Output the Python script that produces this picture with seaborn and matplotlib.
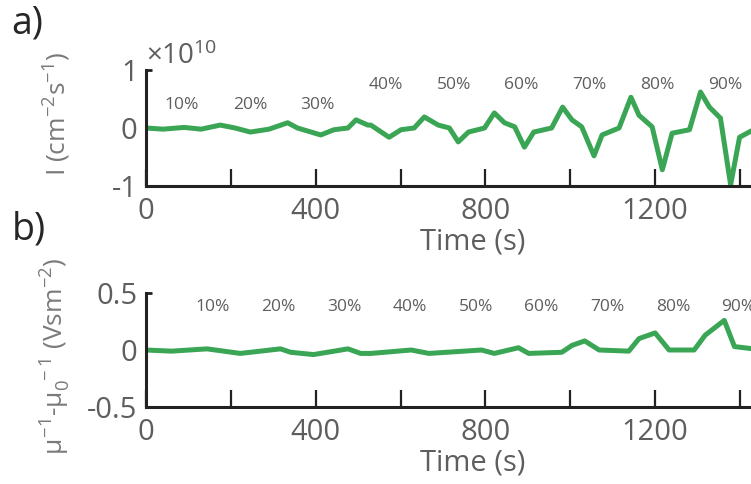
import numpy as np
import pandas as pd
import seaborn as sns
import matplotlib.pyplot as plt

# Panel a: photon intensity (units of 1e10 cm^-2 s^-1)
time_a = [0, 40, 90, 130, 175, 210, 246, 290, 334, 357, 412, 443, 476, 495, 523,
          530, 573, 601, 632, 656, 689, 715, 736, 760, 798, 821, 845, 869, 892,
          914, 956, 982, 1004, 1027, 1056, 1075, 1115, 1143, 1162, 1193, 1217,
          1240, 1281, 1307, 1328, 1354, 1378, 1399, 1432, 1500]
intensity = [0.0, -0.02, 0.01, -0.02, 0.05, 0.0, -0.07, -0.02, 0.09, 0.0, -0.12,
             -0.03, 0.0, 0.14, 0.05, 0.05, -0.16, -0.03, 0.0, 0.19, 0.05, 0.0,
             -0.24, -0.07, 0.0, 0.26, 0.09, 0.02, -0.33, -0.07, 0.0, 0.36, 0.14,
             0.02, -0.48, -0.12, 0.0, 0.53, 0.22, 0.02, -0.72, -0.09, -0.03, 0.62,
             0.36, 0.17, -0.98, -0.16, -0.03, 0.0]

# Panel b: inverse mobility change (V s m^-2)
time_b = [0, 60, 144, 222, 317, 341, 395, 476, 506, 530, 625, 667, 791, 821, 878,
          902, 980, 1004, 1034, 1068, 1138, 1162, 1200, 1233, 1292, 1318, 1363,
          1387, 1432, 1500]
mobility = [0.0, -0.01, 0.01, -0.03, 0.01, -0.02, -0.04, 0.01, -0.03, -0.03, 0.0,
            -0.03, 0.0, -0.03, 0.02, -0.03, -0.02, 0.04, 0.08, 0.0, -0.01, 0.1,
            0.15, 0.0, 0.0, 0.13, 0.26, 0.03, 0.01, 0.0]

steps = ['10%', '20%', '30%', '40%', '50%', '60%', '70%', '80%', '90%']
step_pos_a = [85, 245, 405, 565, 725, 885, 1045, 1205, 1365]
step_y_a = [0.40, 0.40, 0.40, 0.74, 0.74, 0.74, 0.74, 0.74, 0.74]
step_pos_b = [157, 312, 467, 622, 777, 932, 1087, 1242, 1397]
step_y_b = [0.38] * 9

sns.set_style('white')
plt.rcParams['font.family'] = ['Open Sans', 'DejaVu Sans']
plt.rcParams['mathtext.fontset'] = 'custom'
plt.rcParams['mathtext.rm'] = 'Open Sans'
plt.rcParams['mathtext.it'] = 'Open Sans'

green = '#3aa655'
grey = '#5e5e5e'

fig = plt.figure(figsize=(7.51, 4.84), dpi=100)
ax_a = fig.add_axes([0.1944, 0.6157, 0.87, 0.2397])
ax_b = fig.add_axes([0.1944, 0.1591, 0.87, 0.2355])

df_a = pd.DataFrame({'t': time_a, 'v': intensity})
df_b = pd.DataFrame({'t': time_b, 'v': mobility})
sns.lineplot(data=df_a, x='t', y='v', ax=ax_a, color=green, lw=3.6,
             solid_joinstyle='round', solid_capstyle='round')
sns.lineplot(data=df_b, x='t', y='v', ax=ax_b, color=green, lw=3.6,
             solid_joinstyle='round', solid_capstyle='round')

for ax, ylim, yt, ytl in [(ax_a, (-1, 1), [-1, 0, 1], ['-1', '0', '1']),
                          (ax_b, (-0.5, 0.5), [-0.5, 0, 0.5], ['-0.5', '0', '0.5'])]:
    ax.set_xlim(0, 1540)
    ax.set_ylim(*ylim)
    ax.set_xticks([0, 400, 800, 1200])
    ax.set_xticks([200, 600, 1000, 1400], minor=True)
    ax.set_yticks(yt)
    ax.set_yticklabels(ytl)
    ax.tick_params(axis='x', which='both', direction='in', length=12, width=1.6,
                   color='#222222', labelsize=21, labelcolor=grey, pad=8,
                   bottom=True)
    ax.tick_params(axis='y', direction='in', length=4, width=2, color='#222222',
                   labelsize=21, labelcolor=grey, pad=6, left=True)
    for s in ['top', 'right']:
        ax.spines[s].set_visible(False)
    for s in ['left', 'bottom']:
        ax.spines[s].set_color('#222222')
        ax.spines[s].set_linewidth(2.2)
    ax.set_xlabel('Time (s)', fontsize=21, color=grey, labelpad=1)

for name, x, y in zip(steps, step_pos_a, step_y_a):
    ax_a.text(x, y, name, ha='center', va='center', fontsize=12.5, color=grey)
for name, x, y in zip(steps, step_pos_b, step_y_b):
    ax_b.text(x, y, name, ha='center', va='center', fontsize=12.5, color=grey)

ax_a.set_ylabel(r'I (cm$^{-2}$s$^{-1}$)', fontsize=19, color='#7a7a7a')
ax_a.yaxis.set_label_coords(-0.112, 0.62)
ax_b.set_ylabel(r'$\mu^{-1}$-$\mu_0^{\ -1}$ (Vsm$^{-2}$)', fontsize=19, color='#7a7a7a')
ax_b.yaxis.set_label_coords(-0.112, 0.45)

ax_a.text(0, 0.99, r'$\times$10$^{10}$', transform=ax_a.transAxes, fontsize=20,
          color=grey, ha='left', va='bottom')

fig.text(0.015, 0.952, 'a)', fontsize=27, va='center', ha='left')
fig.text(0.015, 0.525, 'b)', fontsize=27, va='center', ha='left')

fig.savefig('out.png', dpi=100)
